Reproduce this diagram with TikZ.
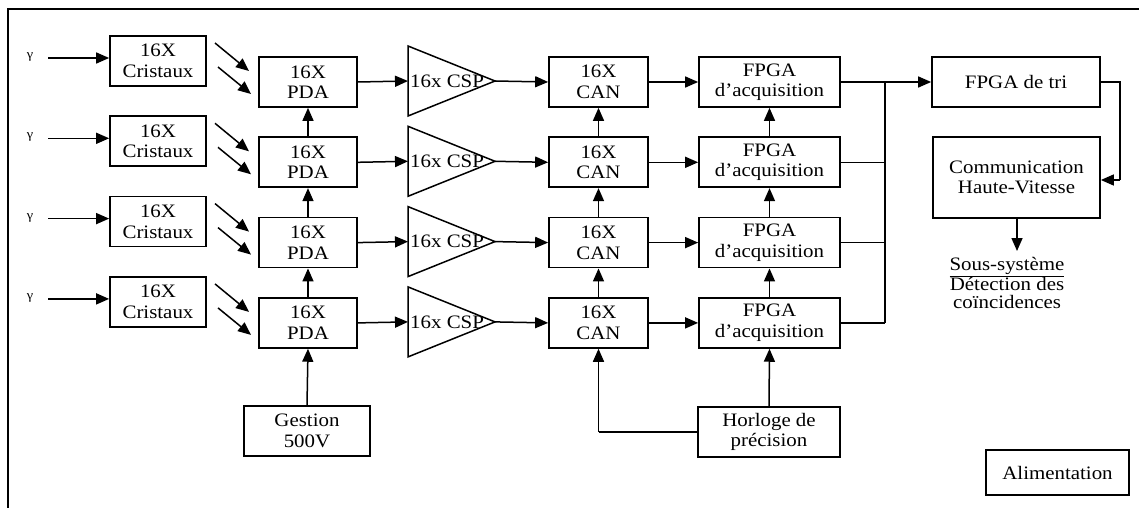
\documentclass[tikz,border=0pt]{standalone}
\usepackage{fontspec}
\setmainfont{Liberation Serif}[FakeStretch=1.1]
\usetikzlibrary{arrows.meta,calc}
\begin{document}
\begin{tikzpicture}[x=1pt,y=-1pt,
  blk/.style={draw,line width=1.7pt,inner sep=0pt,align=center,font=\fontsize{19}{20.5}\selectfont},
  conn/.style={line width=1.5pt,-{Triangle[length=13pt,width=11pt]}},
  wire/.style={line width=1.5pt},
  lbl/.style={inner sep=0pt,font=\fontsize{19}{20.5}\selectfont}]
\useasboundingbox (0,0) rectangle (1139,508);
\draw[line width=1.9pt] (1139,9) -- (8,9) -- (8,508);
\foreach \r in {1,2,3,4}{
  \pgfmathsetmacro{\dy}{(\r-1)*80.3}
  \node[lbl,font=\fontsize{13}{13}\selectfont] (g\r) at (30,57+\dy) {γ};
  \node[blk,minimum width=96pt,minimum height=50pt] (cr\r) at (158,61+\dy) {16X\\Cristaux};
  \draw[conn] (48,58+\dy) -- (cr\r.west |- 0,58+\dy);
  \coordinate (da\r) at (215,43+\dy);
  \coordinate (db\r) at (249,71+\dy);
  \coordinate (dc\r) at (218,67+\dy);
  \coordinate (dd\r) at (251,94+\dy);
  \draw[conn] (da\r) -- (db\r);
  \draw[conn] (dc\r) -- (dd\r);
  \node[blk,minimum width=98pt,minimum height=50pt] (pda\r) at (308,82+\dy) {16X\\PDA};
  \coordinate (csl\r) at (408,81+\dy);
  \coordinate (cst\r) at (495,81+\dy);
  \draw[line width=1.5pt,line join=miter] (408,46+\dy) -- (cst\r) -- (408,116+\dy) -- cycle;
  \node[lbl,anchor=west] (csp\r) at (410,81+\dy) {16x CSP};
  \draw[conn] (pda\r.east) -- (csl\r);
  \node[blk,minimum width=99pt,minimum height=50pt] (can\r) at (598.5,82+\dy) {16X\\CAN};
  \draw[conn] (cst\r) -- (can\r.west);
  \node[blk,minimum width=141pt,minimum height=50pt] (fp\r) at (769.5,82+\dy) {FPGA\\d'acquisition};
  \draw[conn] (can\r.east) -- (fp\r.west);
  \coordinate (bus\r) at (885,82+\dy);
  \draw[wire] (fp\r.east) -- (bus\r);
}
\foreach \a/\b in {2/1,3/2,4/3}{
  \draw[conn] (pda\a.north) -- (pda\b.south);
  \draw[conn] (can\a.north) -- (can\b.south);
  \draw[conn] (fp\a.north) -- (fp\b.south);
}
\draw[wire] (bus1) -- (bus4);
\node[blk,minimum width=168pt,minimum height=50pt] (tri) at (1016,82) {FPGA de tri};
\draw[conn] (bus1) -- (tri.west);
\node[blk,minimum width=167pt,minimum height=81pt] (com) at (1016.5,177.5) {Communication\\Haute-Vitesse};
\coordinate (tr1) at (1120,82);
\coordinate (tr2) at (1120,180);
\draw[wire] (tri.east) -- (tr1) -- (tr2);
\draw[conn] (tr2) -- (com.east |- tr2);
\coordinate (cd) at (1017,251);
\draw[conn] (com.south -| cd) -- (cd);
\node[lbl,align=center,font=\fontsize{19}{17.5}\selectfont] (sous) at (1007,283) {\underline{Sous-système}\\Détection des\\coïncidences};
\node[blk,minimum width=126pt,minimum height=50pt] (ges) at (307,431) {Gestion\\500V};
\draw[conn] (ges.north) -- (pda4.south);
\node[blk,minimum width=142pt,minimum height=50pt] (hor) at (769,432) {Horloge de\\précision};
\draw[conn] (hor.north) -- (fp4.south);
\coordinate (hc) at (598.5,432);
\draw[wire] (hor.west) -- (hc);
\draw[conn] (hc) -- (can4.south);
\node[blk,minimum width=143pt,minimum height=45pt] (alim) at (1057.5,472.5) {Alimentation};
\end{tikzpicture}
\end{document}
